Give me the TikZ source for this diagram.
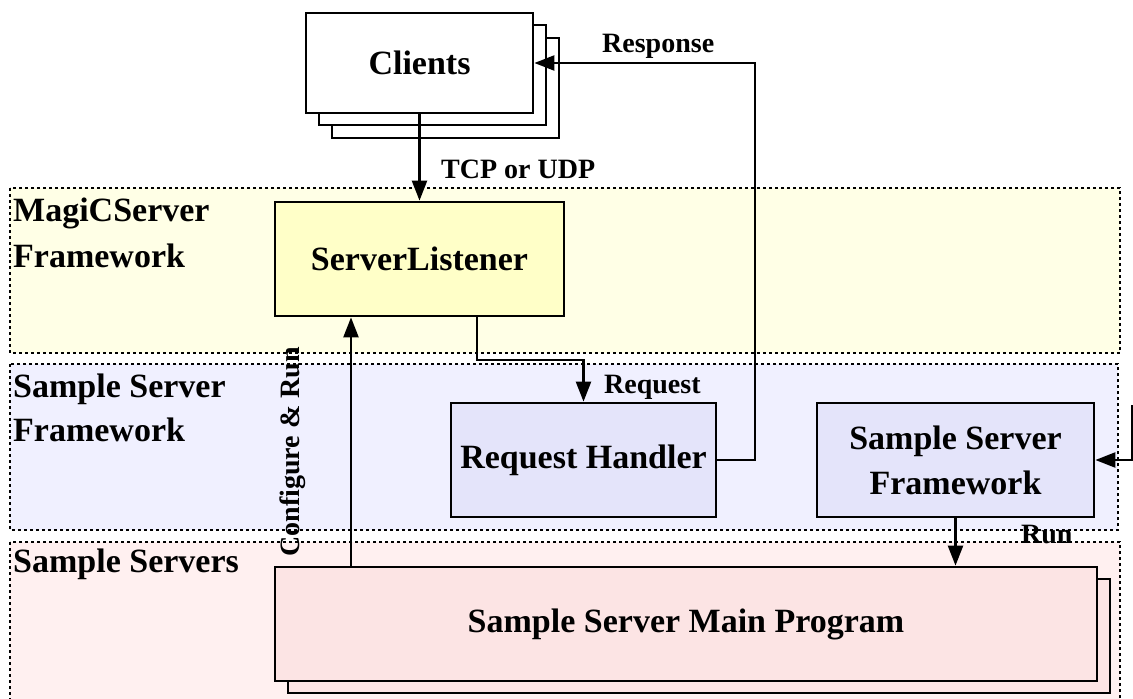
\documentclass[tikz,border=0pt]{standalone}
\usepackage{fontspec}
\setmainfont{Liberation Serif}
\usetikzlibrary{arrows.meta}

\definecolor{magicbg}{HTML}{FFFFE6}
\definecolor{magicbox}{HTML}{FFFFC8}
\definecolor{ssfbg}{HTML}{F0F0FF}
\definecolor{ssfbox}{HTML}{E4E4FA}
\definecolor{ssbg}{HTML}{FFF0F0}
\definecolor{ssbox}{HTML}{FCE4E4}

\begin{document}
\begin{tikzpicture}[x=1pt,y=-1pt,line width=2.4pt,>={Triangle[length=20pt,width=15pt]},
  box/.style={draw,line width=2.8pt,inner sep=0pt,align=center,font=\fontsize{34}{45}\selectfont\bfseries},
  region/.style={draw,line width=2.8pt,dash pattern=on 3pt off 3pt},
  rlbl/.style={inner sep=0pt,anchor=base west,font=\fontsize{34}{40}\selectfont\bfseries},
  lbl/.style={inner sep=0pt,font=\fontsize{28}{32}\selectfont\bfseries}]

\clip (0,0) rectangle (1133,699); \fill[white] (0,0) rectangle (1133,699);

%%%%% Layers
\draw[region,fill=magicbg] (10,188) rectangle (1120,353);
\draw[region,fill=ssfbg] (10,364) rectangle (1118,530);
\draw[region,fill=ssbg] (10,542) rectangle (1120,710);

\node[rlbl] (magic1) at (12,221) {MagiCServer}; \node[rlbl] (magic2) at (12,267) {Framework};
\node[rlbl] (frame1) at (12,397) {Sample Server}; \node[rlbl] (frame2) at (12,441) {Framework};
\node[rlbl] (servers) at (12,572) {Sample Servers};

%%%%% Clients
\node[box,fill=white,minimum width=227pt,minimum height=100pt] (cli3) at (445.5,88) {};
\node[box,fill=white,minimum width=227pt,minimum height=100pt] (cli2) at (432.5,75) {};
\node[box,fill=white,minimum width=227pt,minimum height=100pt] (cli) at (419.5,63) {Clients};

%%%%% Boxes
\node[box,fill=magicbox,minimum width=289pt,minimum height=114pt] (lst) at (419.5,259) {ServerListener};
\node[box,fill=ssfbox,minimum width=265pt,minimum height=114pt] (req) at (583.5,460) {Request Handler};
\node[box,fill=ssfbox,minimum width=277pt,minimum height=114pt] (ssf) at (955.5,460) {Sample Server\\Framework};
\node[box,fill=ssbox,minimum width=822pt,minimum height=114pt] (main2) at (699,636) {};
\node[box,fill=ssbox,minimum width=822pt,minimum height=114pt] (main) at (686,624) {Sample Server Main Program};

%%%%% Connectors
\coordinate (rq) at (477,360); \coordinate (rs) at (755,0); \coordinate (cfg) at (351,0); \coordinate (ext) at (1132,405);

\draw[->] (cli.south) -- (lst.north);
\draw[->] (lst.south -| rq) -- (rq) -| (req.north);
\draw[->] (req.east) -| (rs |- cli.east) -- (cli.east);
\draw[->] (main.north -| cfg) -- (lst.south -| cfg);
\draw[->] (ssf.south) -- (ssf.south |- main.north);
\draw[->] (ext) |- (ssf.east);

\node[lbl,anchor=base west] (tcp) at (440,178) {TCP or UDP};
\node[lbl,anchor=base west] (resp) at (601,52) {Response};
\node[lbl,anchor=base west] (reql) at (603,393) {Request};
\node[lbl,anchor=base west] (run) at (1020,543) {Run};
\node[lbl,rotate=90] (cfgl) at (293,452) {Configure \& Run};

\end{tikzpicture}
\end{document}
